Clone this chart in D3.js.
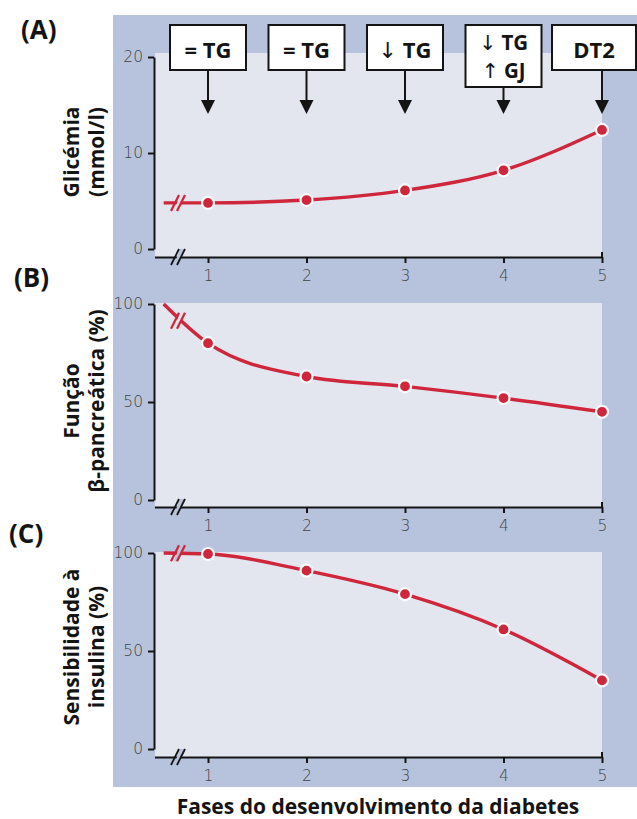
<!DOCTYPE html>
<html><head><meta charset="utf-8">
<script src="https://cdn.jsdelivr.net/npm/d3@7"></script>
<style>
html,body{margin:0;padding:0;background:#fff;}
svg{display:block;}
</style></head>
<body>
<script>
// ---------- data ----------
const phases = [1, 2, 3, 4, 5];
const lineStartPhase = 0.55;
const glicemia = [4.8, 5.1, 6.1, 8.2, 12.4];
const glicemiaStart = 4.8;
const funcaoBeta = [80, 63, 58, 52, 45];
const funcaoBetaStart = 100;
const sensibilidade = [99.5, 91, 79, 61, 35];
const sensibilidadeStart = 100;
const glicemiaTicks = [0, 10, 20];
const percentTicks = [0, 50, 100];
const boxArrows = [[""], [""], ["\u2193"], ["\u2193", "\u2191"], [""]];
const boxLabels = [["= TG"], ["= TG"], ["TG"], ["TG", "GJ"], ["DT2"]];
const panelLetters = ["(A)", "(B)", "(C)"];
const yTitles = [["Glicémia", "(mmol/l)"], ["Função", "β-pancreática (%)"], ["Sensibilidade à", "insulina (%)"]];
const xTitle = "Fases do desenvolvimento da diabetes";

// ---------- drawing ----------
const W = 637, H = 819;
const BLUE = "#b7c3dc", LIGHT = "#e3e6ee", RED = "#cf263b", INK = "#141414";
const svg = d3.select("body").append("svg").attr("width", W).attr("height", H);

svg.append("rect").attr("x", 113).attr("y", 15).attr("width", W - 113).attr("height", 772).attr("fill", BLUE);

const x = d3.scaleLinear().domain([1, 5]).range([208, 602]);
const axisLeftX = 155;

const panels = [
  {values: glicemia, start: glicemiaStart, max: 20, ticks: glicemiaTicks, yTop: 57, y0: 249, axisY: 257, panelTop: 53, letterPos: [21, 39], titleCY: 152},
  {values: funcaoBeta, start: funcaoBetaStart, max: 100, ticks: percentTicks, yTop: 304, y0: 500, axisY: 507, panelTop: 303, letterPos: [14, 287], titleCY: 401},
  {values: sensibilidade, start: sensibilidadeStart, max: 100, ticks: percentTicks, yTop: 553, y0: 749, axisY: 757, panelTop: 552, letterPos: [9, 543], titleCY: 647}
];

function breakMark(g, cx, cy, color, width, gapFill) {
  g.append("path")
    .attr("d", `M${cx - 7},${cy + 8} L${cx - 1},${cy - 8} L${cx + 3},${cy - 8} L${cx - 3},${cy + 8} Z`)
    .attr("fill", gapFill);
  [-6, 0].forEach(off => {
    g.append("line")
      .attr("x1", cx + off - 4).attr("y1", cy + 8)
      .attr("x2", cx + off + 4).attr("y2", cy - 8)
      .attr("stroke", color).attr("stroke-width", width);
  });
}

panels.forEach((p, i) => {
  const g = svg.append("g");
  const y = d3.scaleLinear().domain([0, p.max]).range([p.y0, p.yTop]);

  // light panel
  g.append("rect").attr("x", axisLeftX).attr("y", p.panelTop)
    .attr("width", x(5) - axisLeftX).attr("height", p.axisY - p.panelTop).attr("fill", LIGHT);

  // y axis
  const ya = g.append("g").attr("transform", `translate(${axisLeftX - 1},0)`)
    .call(d3.axisLeft(y).tickValues(p.ticks).tickSize(6).tickPadding(5).tickSizeOuter(0));
  ya.select(".domain").attr("stroke", INK).attr("stroke-width", 2);
  ya.selectAll(".tick line").attr("stroke", INK).attr("stroke-width", 2);
  ya.selectAll(".tick text").attr("font-family", "DejaVu Sans").attr("font-weight", 300)
    .attr("font-size", 15.5).attr("fill", "#444");

  // x axis
  const xa = g.append("g").attr("transform", `translate(0,${p.axisY})`)
    .call(d3.axisBottom(x).tickValues(phases).tickFormat(d3.format("d")).tickSize(6).tickPadding(7).tickSizeOuter(0));
  xa.select(".domain").attr("d", `M${axisLeftX},0.5H${x(5)}`).attr("stroke", INK).attr("stroke-width", 2);
  xa.selectAll(".tick line").attr("stroke", INK).attr("stroke-width", 2);
  xa.append("line").attr("x1", x(5)).attr("x2", x(5)).attr("y1", -5).attr("y2", 0).attr("stroke", INK).attr("stroke-width", 2);
  xa.selectAll(".tick text").attr("font-family", "DejaVu Sans").attr("font-weight", 300)
    .attr("font-size", 15.5).attr("fill", "#444");
  breakMark(g, 181, p.axisY, INK, 1.8, BLUE);

  // line
  const pts = [[lineStartPhase, p.start]].concat(phases.map((ph, k) => [ph, p.values[k]]));
  const line = d3.line().x(d => x(d[0])).y(d => y(d[1])).curve(d3.curveMonotoneX);
  const path = g.append("path").attr("d", line(pts)).attr("fill", "none")
    .attr("stroke", RED).attr("stroke-width", 3.4);
  const node = path.node(), L = node.getTotalLength();
  let lo = 0, hi = L;
  for (let it = 0; it < 30; it++) { const m = (lo + hi) / 2; if (node.getPointAtLength(m).x < 181) lo = m; else hi = m; }
  const bp = node.getPointAtLength(lo);
  const gapFill = (bp.y > p.panelTop + 4) ? LIGHT : BLUE;
  breakMark(g, bp.x, bp.y, RED, 2.2, gapFill);

  g.selectAll("circle").data(phases).enter().append("circle")
    .attr("cx", d => x(d)).attr("cy", (d, k) => y(p.values[k]))
    .attr("r", 6).attr("fill", RED).attr("stroke", "#fbfbfd").attr("stroke-width", 2.2);

  // panel letter
  svg.append("text").attr("x", p.letterPos[0]).attr("y", p.letterPos[1])
    .attr("font-family", "Open Sans").attr("font-weight", 700).attr("font-size", 26).attr("fill", INK)
    .text(panelLetters[i]);

  // y title
  yTitles[i].forEach((t, j) => {
    svg.append("text").attr("transform", `translate(${79 + j * 25},${p.titleCY}) rotate(-90)`)
      .attr("text-anchor", "middle").attr("font-family", "Open Sans").attr("font-weight", 700)
      .attr("font-size", 21).attr("fill", INK).text(t);
  });
});

// boxes with arrows
const bg = svg.append("g");
boxLabels.forEach((lines, k) => {
  const cx = x(phases[k]);
  const last = k === boxLabels.length - 1;
  const left = last ? cx - 50 : cx - 38;
  const right = last ? 636 : cx + 38;
  const top = 25, bottom = lines.length > 1 ? 87 : 70;
  bg.append("line").attr("x1", cx).attr("x2", cx).attr("y1", bottom).attr("y2", 101)
    .attr("stroke", INK).attr("stroke-width", 2);
  bg.append("path").attr("d", `M${cx - 7},100 L${cx + 7},100 L${cx},114 Z`).attr("fill", INK);
  bg.append("rect").attr("x", left).attr("y", top).attr("width", right - left).attr("height", bottom - top)
    .attr("fill", "#fff").attr("stroke", INK).attr("stroke-width", 2);
  const tcx = (left + right) / 2;
  const multi = lines.length > 1;
  lines.forEach((t, j) => {
    const by = multi ? 50 + j * 28 : 58;
    const txt = bg.append("text").attr("x", tcx).attr("y", by).attr("text-anchor", "middle")
      .attr("font-family", "Open Sans").attr("font-weight", 700).attr("font-size", multi ? 20.5 : 22).attr("fill", INK);
    const arrow = boxArrows[k][j];
    if (arrow) {
      txt.append("tspan").attr("font-family", "DejaVu Sans").attr("font-weight", 400).attr("fill", INK).text(arrow);
      txt.append("tspan").text(" " + t);
    } else {
      txt.text(t);
    }
  });
});

// x title
svg.append("text").attr("x", 378).attr("y", 814).attr("text-anchor", "middle")
  .attr("font-family", "Open Sans").attr("font-weight", 700).attr("font-size", 21).attr("fill", INK)
  .text(xTitle);
</script>
</body></html>
